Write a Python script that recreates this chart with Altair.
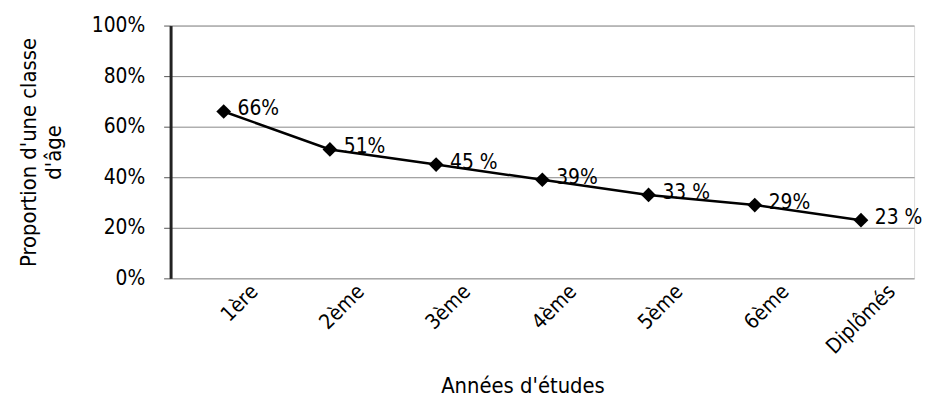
import altair as alt
import pandas as pd

categories = ["1ère", "2ème", "3ème", "4ème", "5ème", "6ème", "Diplômés"]
values = [0.66, 0.51, 0.45, 0.39, 0.33, 0.29, 0.23]
labels = ["66%", "51%", "45 %", "39%", "33 %", "29%", "23 %"]

df = pd.DataFrame({"annee": categories, "val": values, "lab": labels})

FONT = "DejaVu Sans Condensed"

x_enc = alt.X(
    "annee:N", sort=categories,
    scale=alt.Scale(padding=0.5),
    axis=alt.Axis(
        title="Années d'études", labelAngle=-45, labelAlign="right", labelBaseline="middle",
        labelFontSize=21, labelFont=FONT, labelColor="black", labelPadding=10, labelOffset=31,
        ticks=False, domain=False, grid=False,
        titleFontSize=22, titleFont=FONT, titleFontWeight="normal", titleColor="black",
        titleX=355, titleY=108, titleBaseline="middle",
    ),
)
y_enc = alt.Y(
    "val:Q", scale=alt.Scale(domain=[0, 1]),
    axis=alt.Axis(
        title=["Proportion d'une classe", "d'âge"], format=".0%", values=[0, 0.2, 0.4, 0.6, 0.8, 1.0],
        labelFontSize=21, labelFont=FONT, labelColor="black", labelPadding=19,
        tickSize=7, tickColor="#555555", tickWidth=1,
        domainColor="#222222", domainWidth=3,
        gridColor="#888888", gridWidth=1,
        titleFontSize=22, titleFont=FONT, titleFontWeight="normal", titleColor="black",
        titlePadding=26, titleLineHeight=25,
    ),
)

base = alt.Chart(df).encode(x=x_enc, y=y_enc)

line = base.mark_line(color="black", strokeWidth=2.5)
pts = base.mark_point(shape="diamond", filled=True, color="black", size=220, opacity=1)
txt = base.mark_text(align="left", baseline="middle", dx=14, dy=-2, fontSize=21, font=FONT, color="black").encode(text="lab:N")

chart = (line + pts + txt).properties(
    width=750, height=255,
    autosize=alt.AutoSizeParams(type="none"),
    padding={"left": 164, "top": 16, "right": 10, "bottom": 122},
).configure_view(stroke="#888888", strokeWidth=2).configure(background="white")

chart.save("out.html", embed_options={"renderer": "svg", "actions": False})
